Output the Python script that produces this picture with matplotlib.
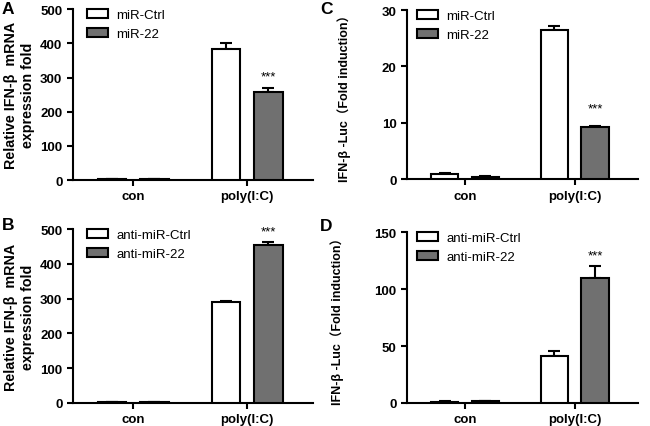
import numpy as np
import matplotlib.pyplot as plt

plt.rcParams['font.family'] = ['Liberation Sans', 'Noto Sans CJK SC', 'DejaVu Sans']

groups = ['con', 'poly(I:C)']

# panel A
a_ctrl = [2, 383]
a_ctrl_err = [0.5, 18]
a_mir = [2, 257]
a_mir_err = [0.5, 13]

# panel B
b_ctrl = [2, 290]
b_ctrl_err = [0.5, 2]
b_mir = [3, 455]
b_mir_err = [0.5, 7]

# panel C
c_ctrl = [1.0, 26.4]
c_ctrl_err = [0.1, 0.7]
c_mir = [0.4, 9.3]
c_mir_err = [0.2, 0.05]

# panel D
d_ctrl = [1.0, 41]
d_ctrl_err = [0.3, 5]
d_mir = [1.5, 110]
d_mir_err = [0.3, 10]

mrna_label = 'Relative IFN-β  mRNA\nexpression fold'
luc_label = 'IFN-β -Luc（Fold induction）'

fig = plt.figure(figsize=(6.5, 4.27), dpi=100)


def panel(rect, ctrl, ctrl_err, mir, mir_err, ymax, step, ylabel, names,
          pad=4, leg_x=0.06, star_gap=0.03, lab_size=10.3):
    ax = fig.add_axes(rect)
    x = np.arange(len(groups))
    w = 0.25
    off = 0.185
    ax.bar(x - off, ctrl, w, color='white', edgecolor='black', linewidth=1.5,
           label=names[0], zorder=3)
    ax.bar(x + off, mir, w, color='#707070', edgecolor='black', linewidth=1.5,
           label=names[1], zorder=3)
    ax.errorbar(x - off, ctrl, yerr=[np.zeros(2), ctrl_err], fmt='none',
                ecolor='black', elinewidth=1.5, capsize=4.5, capthick=1.5, zorder=2)
    ax.errorbar(x + off, mir, yerr=[np.zeros(2), mir_err], fmt='none',
                ecolor='black', elinewidth=1.5, capsize=4.5, capthick=1.5, zorder=2)
    ax.text(1 + off, mir[1] + mir_err[1] + ymax * star_gap, '***', ha='center',
            va='bottom', fontsize=9.5)
    ax.set_xlim(-0.53, 1.58)
    ax.set_ylim(0, ymax)
    ax.set_yticks(np.arange(0, ymax + 1, step))
    ax.set_xticks(x)
    ax.set_xticklabels(groups)
    for s in ['top', 'right']:
        ax.spines[s].set_visible(False)
    for s in ['left', 'bottom']:
        ax.spines[s].set_linewidth(1.5)
    ax.tick_params(width=1.5, length=4)
    for lab in ax.get_xticklabels() + ax.get_yticklabels():
        lab.set_fontweight('bold')
        lab.set_fontsize(9.5)
    ax.set_ylabel(ylabel, fontsize=lab_size, fontweight='bold', labelpad=pad)
    ax.legend(loc='upper left', bbox_to_anchor=(leg_x, 1.0), frameon=False,
              fontsize=9.5, handlelength=1.6, handleheight=0.7,
              handletextpad=0.6, borderaxespad=0, borderpad=0, labelspacing=0.5)
    return ax


axA = panel([0.112, 0.576, 0.37, 0.40], a_ctrl, a_ctrl_err, a_mir, a_mir_err,
            500, 100, mrna_label, ['miR-Ctrl', 'miR-22'])
axB = panel([0.112, 0.054, 0.37, 0.407], b_ctrl, b_ctrl_err, b_mir, b_mir_err,
            500, 100, mrna_label, ['anti-miR-Ctrl', 'anti-miR-22'])
axC = panel([0.626, 0.578, 0.356, 0.396], c_ctrl, c_ctrl_err, c_mir, c_mir_err,
            30, 10, luc_label, ['miR-Ctrl', 'miR-22'], pad=22, leg_x=0.045,
            star_gap=0.07, lab_size=9)
axD = panel([0.626, 0.054, 0.356, 0.40], d_ctrl, d_ctrl_err, d_mir, d_mir_err,
            150, 50, luc_label, ['anti-miR-Ctrl', 'anti-miR-22'], pad=22,
            leg_x=0.045, lab_size=9)

for letter, (px, py) in zip('ABCD', [(0.003, 0.995), (0.003, 0.49), (0.492, 0.995), (0.492, 0.487)]):
    fig.text(px, py, letter, fontsize=12.5, fontweight='bold', va='top', ha='left')

fig.savefig('out.png', dpi=100)
